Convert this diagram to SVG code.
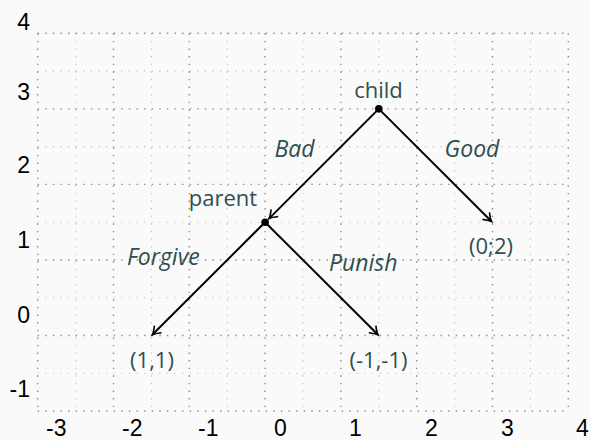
<svg xmlns="http://www.w3.org/2000/svg" width="591" height="440" viewBox="0 0 591 440">
<style>
.maj{stroke:#8c8c8c;stroke-width:1.4;stroke-dasharray:1.4 6.2;fill:none}
.min{stroke:#b8b8b8;stroke-width:1.1;stroke-dasharray:1.1 6.5;fill:none}
.ax{font-family:"Liberation Sans",Arial,sans-serif;font-size:23px;fill:#000}
.lbl{font-family:"Open Sans","Noto Sans",sans-serif;font-size:22px;fill:#2f4f4f}
.it{font-style:italic;font-size:23px}
.edge{stroke:#000;stroke-width:2;fill:none;marker-end:url(#ah)}
</style>
<defs>
<marker id="ah" markerUnits="userSpaceOnUse" markerWidth="20" markerHeight="20" refX="0" refY="0" viewBox="-10 -10 20 20" orient="auto" overflow="visible">
<path d="M -8 -5 Q -3 -1 0 0 Q -3 1 -8 5" fill="none" stroke="#000" stroke-width="1.6"/>
</marker>
</defs>
<rect width="591" height="440" fill="#fafafa"/>
<g id="grid">
<path class="min" d="M75.6 33.3V411M151.4 33.3V411M227.2 33.3V411M303 33.3V411M378.8 33.3V411M454.6 33.3V411M530.4 33.3V411"/>
<path class="min" d="M37.7 71.1H568.3M37.7 146.6H568.3M37.7 222.2H568.3M37.7 297.7H568.3M37.7 373.3H568.3"/>
<path class="maj" d="M37.7 33.3V411M113.5 33.3V411M189.3 33.3V411M265.1 33.3V411M340.9 33.3V411M416.7 33.3V411M492.5 33.3V411M568.3 33.3V411"/>
<path class="maj" d="M37.7 33.3H568.3M37.7 108.85H568.3M37.7 184.4H568.3M37.7 259.95H568.3M37.7 335.5H568.3M37.7 411H568.3"/>
</g>
<g id="axes">
<text class="ax" x="46" y="436">-3</text>
<text class="ax" x="122" y="436">-2</text>
<text class="ax" x="198" y="436">-1</text>
<text class="ax" x="274" y="436">0</text>
<text class="ax" x="349" y="436">1</text>
<text class="ax" x="425" y="436">2</text>
<text class="ax" x="501" y="436">3</text>
<text class="ax" x="576" y="436">4</text>
<text class="ax" x="30" y="29.5" text-anchor="end">4</text>
<text class="ax" x="30" y="99.5" text-anchor="end">3</text>
<text class="ax" x="30" y="173" text-anchor="end">2</text>
<text class="ax" x="30" y="248" text-anchor="end">1</text>
<text class="ax" x="30" y="323" text-anchor="end">0</text>
<text class="ax" x="30" y="397" text-anchor="end">-1</text>
</g>
<g id="connectors">
<path class="edge" d="M378.8 108.85L269.0 218.6"/>
<path class="edge" d="M378.8 108.85L491.6 221.5"/>
<path class="edge" d="M265.1 222.2L152.3 334.8"/>
<path class="edge" d="M265.1 222.2L378.0 334.8"/>
<text class="lbl it" x="294.5" y="157" text-anchor="middle">Bad</text>
<text class="lbl it" x="472" y="157" text-anchor="middle">Good</text>
<text class="lbl it" x="163.3" y="265" text-anchor="middle">Forgive</text>
<text class="lbl it" x="363.3" y="270.7" text-anchor="middle">Punish</text>
</g>
<g id="child">
<circle cx="378.8" cy="108.85" r="3.8" fill="#000"/>
<text class="lbl" x="378.5" y="98" text-anchor="middle">child</text>
</g>
<g id="parent">
<circle cx="265.1" cy="222.2" r="3.8" fill="#000"/>
<text class="lbl" x="223" y="206" text-anchor="middle">parent</text>
</g>
<g id="leaf-good">
<text class="lbl" x="491" y="254" text-anchor="middle">(0;2)</text>
</g>
<g id="leaf-forgive">
<text class="lbl" x="152" y="368" text-anchor="middle">(1,1)</text>
</g>
<g id="leaf-punish">
<text class="lbl" x="378.5" y="368" text-anchor="middle">(-1,-1)</text>
</g>
</svg>
